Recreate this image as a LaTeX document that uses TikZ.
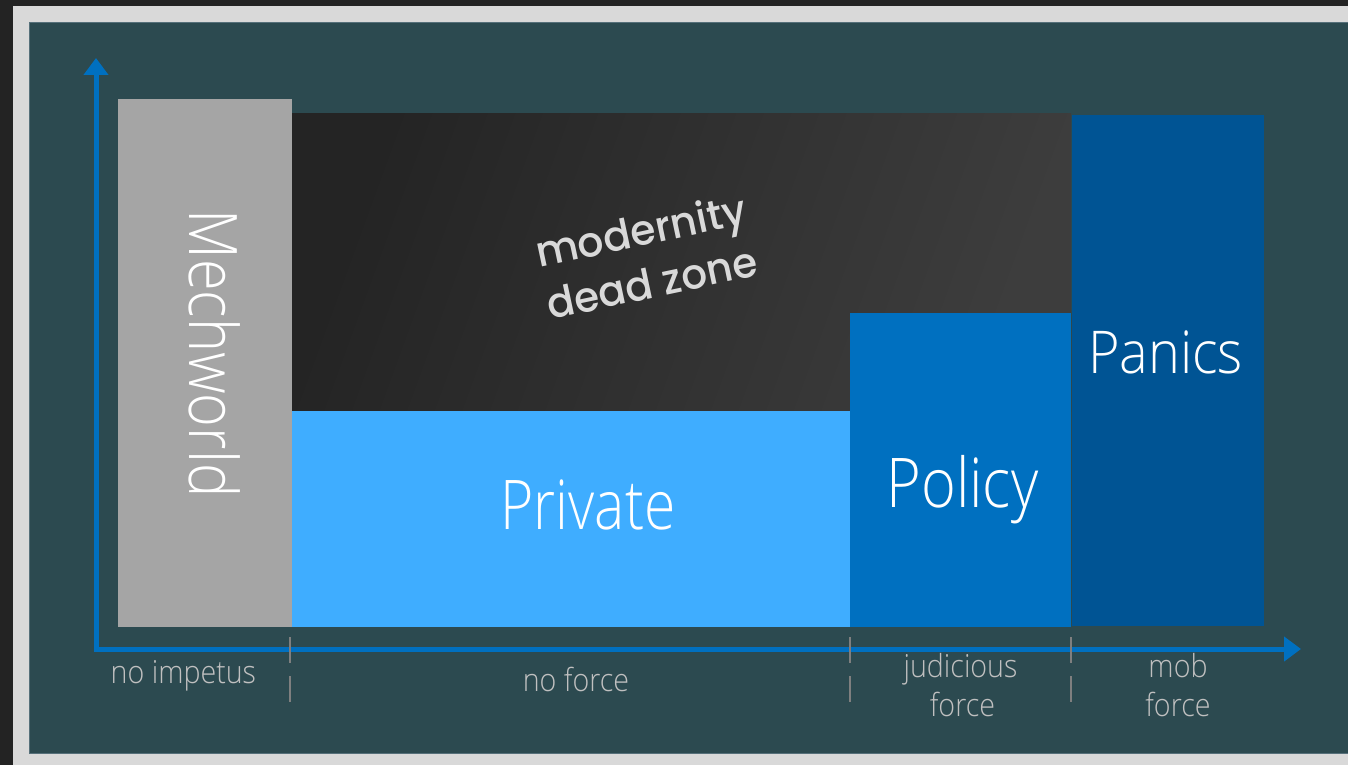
\documentclass[tikz,border=0pt]{standalone}
\usepackage{fontspec}
\usepackage{graphicx}
\usetikzlibrary{arrows.meta}
\IfFontExistsTF{Open Sans Light}{%
  \setmainfont{Open Sans Light}
  \newfontfamily\lblfont{Open Sans Light}[FakeStretch=0.9]
}{%
  \setmainfont{Open Sans}
  \newfontfamily\lblfont{Open Sans}[FakeStretch=0.9]
}
\IfFontExistsTF{Poppins Medium}{%
  \newfontfamily\handfont{Poppins Medium}
}{%
  \newfontfamily\handfont{Poppins}
}
\newcommand{\fitw}[2]{\resizebox{#1}{\height}{#2}}
\definecolor{outerdark}{HTML}{232323}
\definecolor{framegray}{HTML}{D9D9D9}
\definecolor{panelbg}{HTML}{2C4A50}
\definecolor{paneledge}{HTML}{56707A}
\definecolor{mechgray}{HTML}{A5A5A5}
\definecolor{deadl}{HTML}{242424}
\definecolor{deadr}{HTML}{3D3D3D}
\definecolor{privblue}{HTML}{3FADFF}
\definecolor{polblue}{HTML}{0070C0}
\definecolor{panblue}{HTML}{005494}
\definecolor{axisblue}{HTML}{0070C0}
\definecolor{tickgray}{HTML}{7F7F7F}
\definecolor{lblgray}{HTML}{C0C0C0}
\definecolor{handgray}{HTML}{D9D9D9}
\tikzset{
  axisline/.style={draw=axisblue, line width=5pt,
    {Triangle[length=17pt,width=24pt]}-{Triangle[length=17pt,width=24pt]}},
  tickmark/.style={draw=tickgray, line width=2.6pt},
  biglabel/.style={text=white, inner sep=0pt, anchor=base},
  axislabel/.style={text=lblgray, inner sep=0pt, anchor=base, font=\lblfont\fontsize{31.8}{38}\selectfont},
  handlabel/.style={text=handgray, inner sep=0pt, align=center, rotate=12, font=\handfont\fontsize{42}{53}\selectfont}
}
\begin{document}
\begin{tikzpicture}[x=1pt,y=-1pt]
\useasboundingbox (0,0) rectangle (1348,765);
% background frame
\fill[outerdark] (0,0) rectangle (1348,765);
\fill[framegray] (13,6) rectangle (1348,765);
\fill[panelbg, draw=paneledge, line width=1pt] (29.5,22.5) rectangle (1350,753);
% blocks
\fill[mechgray] (118,99) rectangle (292,627);
\shade[left color=deadl, right color=deadr, shading angle=70] (292,114) rectangle (1071,411);
\fill[privblue] (292,411) rectangle (850,627);
\fill[polblue] (850,313) rectangle (1071,627);
\fill[panblue] (1072,115) rectangle (1264,626);
% axes
\coordinate (O) at (96,649);
\coordinate (Ytip) at (96,58);
\coordinate (Xtip) at (1301,649);
\draw[axisline] (Ytip) -- (O) -- (Xtip);
% tick marks
\foreach \tx in {290,850,1071}{
  \draw[tickmark] (\tx,637) -- (\tx,663);
  \draw[tickmark] (\tx,676) -- (\tx,702);
}
% block labels
\node[biglabel, rotate=-90, font=\fontsize{67}{70}\selectfont] (mech) at (189,353.5) {\fitw{288pt}{Mechworld}};
\node[biglabel, font=\fontsize{68.6}{72}\selectfont] (priv) at (588,529) {\fitw{175pt}{Private}};
\node[biglabel, font=\fontsize{68.6}{72}\selectfont] (pol) at (962.5,507) {\fitw{152pt}{Policy}};
\node[biglabel, font=\fontsize{59}{62}\selectfont] (pan) at (1165.5,373) {\fitw{155pt}{Panics}};
% dead zone text
\node[handlabel] (mod) at (646,256) {\fitw{214pt}{modernity}\\\fitw{214pt}{dead zone}};
% axis labels
\node[axislabel] (noimp) at (183.4,683.3) {no impetus};
\node[axislabel] (noforce) at (576,691) {no force};
\node[axislabel] (jud1) at (960.5,677) {judicious};
\node[axislabel] (jud2) at (962.5,716) {force};
\node[axislabel] (mob1) at (1178,677) {mob};
\node[axislabel] (mob2) at (1178,716) {force};
\end{tikzpicture}
\end{document}
